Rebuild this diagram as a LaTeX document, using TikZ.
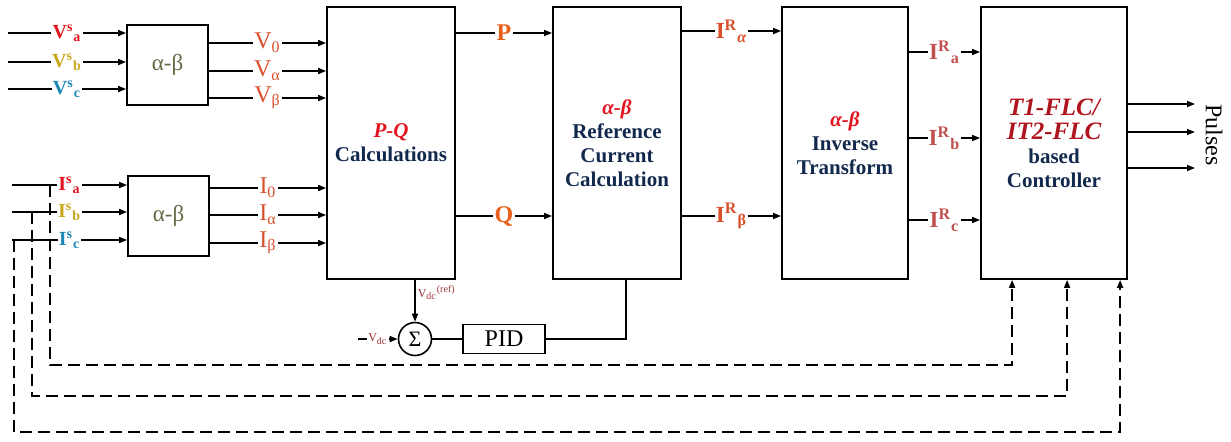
\documentclass[tikz,border=0pt]{standalone}
\usepackage{fontspec}
\setmainfont{Liberation Serif}
\usetikzlibrary{arrows.meta,positioning,calc}
\definecolor{SigRed}{HTML}{E3141F}
\definecolor{SigGold}{HTML}{C9A61C}
\definecolor{SigBlue}{HTML}{1B87B5}
\definecolor{AbOlive}{HTML}{5E6B45}
\definecolor{OutOrange}{HTML}{D9502A}
\definecolor{PqOrange}{HTML}{E8601C}
\definecolor{RefRose}{HTML}{C0504D}
\definecolor{TitleRed}{HTML}{E3141F}
\definecolor{FlcRed}{HTML}{B0141C}
\definecolor{BoxNavy}{HTML}{12294D}
\definecolor{DcRed}{HTML}{A0303A}

\begin{document}
\begin{tikzpicture}[x=0.5pt, y=-0.5pt, >={Triangle[length=4pt,width=3pt]},
  blk/.style={draw, line width=0.9pt, align=center, inner sep=2pt},
  abbox/.style={blk, minimum width=40.5pt, minimum height=40pt, text=AbOlive, font=\fontsize{11.5}{12}\selectfont},
  bigbox/.style={blk, minimum height=136pt, text=BoxNavy, font=\fontsize{10.5}{12}\selectfont\bfseries},
  arr/.style={->, line width=0.8pt},
  fb/.style={->, line width=0.9pt, dash pattern=on 6pt off 3pt},
  lbl/.style={fill=white, inner sep=0.6pt},
  sig/.style={lbl, font=\fontsize{10}{11}\selectfont\bfseries},
  comp/.style={lbl, text=OutOrange, font=\fontsize{12}{13}\selectfont},
  pqlbl/.style={lbl, text=PqOrange, font=\fontsize{12}{13}\selectfont\bfseries},
  reflbl/.style={lbl, font=\fontsize{11.5}{12}\selectfont\bfseries}]
\useasboundingbox (0,0) rectangle (1231,441);

% blocks
\node[abbox] (abv) at (167.5,65) {α-β};
\node[abbox] (abi) at (168.5,216) {α-β};
\node[bigbox, minimum width=64pt] (pq) at (391,143) {\textcolor{TitleRed}{\itshape P-Q}\\Calculations};
\node[bigbox, minimum width=64pt] (ref) at (617,143) {\textcolor{TitleRed}{\itshape α-β}\\Reference\\Current\\Calculation};
\node[bigbox, minimum width=63pt] (inv) at (845,143) {\textcolor{TitleRed}{\itshape α-β}\\Inverse\\Transform};
\node[bigbox, minimum width=73pt] (flc) at (1054,143) {\textcolor{FlcRed}{\fontsize{12.5}{14}\selectfont\itshape T1-FLC/}\\\textcolor{FlcRed}{\fontsize{12.5}{14}\selectfont\itshape IT2-FLC}\\based\\Controller};
\node[draw, circle, line width=0.8pt, minimum size=16.5pt, inner sep=0pt, font=\fontsize{11}{12}\selectfont] (sum) at (415,339) {Σ};
\node[blk, line width=0.8pt, minimum width=41pt, minimum height=14.5pt, font=\fontsize{12}{13}\selectfont] (pid) at (504,339) {PID};
\node[rotate=-90, font=\fontsize{12}{13}\selectfont] (pulses) at (1214,135) {Pulses};

% free ends
\coordinate (va) at (8,33);
\coordinate (vb) at (8,62);
\coordinate (vc) at (8,89);
\coordinate (ia) at (12,185);
\coordinate (ib) at (12,212);
\coordinate (ic) at (12,240);
\coordinate (ta) at (50,185);
\coordinate (tb) at (32,212);
\coordinate (tc) at (14,240);
\coordinate (vdc) at (358,339);
\coordinate (pu1) at (1195,104);
\coordinate (pu2) at (1195,132);
\coordinate (pu3) at (1195,168);

% source signals
\draw[arr] (va) -- (va -| abv.west) node[midway, sig, text=SigRed] {V\textsuperscript{s}\textsubscript{a}};
\draw[arr] (vb) -- (vb -| abv.west) node[midway, sig, text=SigGold] {V\textsuperscript{s}\textsubscript{b}};
\draw[arr] (vc) -- (vc -| abv.west) node[midway, sig, text=SigBlue] {V\textsuperscript{s}\textsubscript{c}};
\draw[arr] (ia) -- (ia -| abi.west) node[midway, sig, text=SigRed] {I\textsuperscript{s}\textsubscript{a}};
\draw[arr] (ib) -- (ib -| abi.west) node[midway, sig, text=SigGold] {I\textsuperscript{s}\textsubscript{b}};
\draw[arr] (ic) -- (ic -| abi.west) node[midway, sig, text=SigBlue] {I\textsuperscript{s}\textsubscript{c}};

% transformed components
\draw[arr] (abv.east |- 0,43) -- (pq.west |- 0,43) node[midway, comp] {V\textsubscript{0}};
\draw[arr] (abv.east |- 0,71) -- (pq.west |- 0,71) node[midway, comp] {V\textsubscript{α}};
\draw[arr] (abv.east |- 0,98) -- (pq.west |- 0,98) node[midway, comp] {V\textsubscript{β}};
\draw[arr] (abi.east |- 0,188) -- (pq.west |- 0,188) node[midway, comp] {I\textsubscript{0}};
\draw[arr] (abi.east |- 0,215) -- (pq.west |- 0,215) node[midway, comp] {I\textsubscript{α}};
\draw[arr] (abi.east |- 0,243) -- (pq.west |- 0,243) node[midway, comp] {I\textsubscript{β}};

% powers and reference currents
\draw[arr] (pq.east |- 0,33) -- (ref.west |- 0,33) node[midway, pqlbl] {P};
\draw[arr] (pq.east |- 0,216) -- (ref.west |- 0,216) node[midway, pqlbl] {Q};
\draw[arr] (ref.east |- 0,31) -- (inv.west |- 0,31) node[midway, reflbl, text=OutOrange] {I\textsuperscript{R}\textsubscript{\itshape α}};
\draw[arr] (ref.east |- 0,216) -- (inv.west |- 0,216) node[midway, reflbl, text=OutOrange] {I\textsuperscript{R}\textsubscript{β}};
\draw[arr] (inv.east |- 0,52) -- (flc.west |- 0,52) node[midway, reflbl, text=RefRose] {I\textsuperscript{R}\textsubscript{a}};
\draw[arr] (inv.east |- 0,138) -- (flc.west |- 0,138) node[midway, reflbl, text=RefRose] {I\textsuperscript{R}\textsubscript{b}};
\draw[arr] (inv.east |- 0,220) -- (flc.west |- 0,220) node[midway, reflbl, text=RefRose] {I\textsuperscript{R}\textsubscript{c}};

% gate pulses
\draw[arr] (flc.east |- pu1) -- (pu1);
\draw[arr] (flc.east |- pu2) -- (pu2);
\draw[arr] (flc.east |- pu3) -- (pu3);

% dc-link loop
\draw[arr] (sum.north |- pq.south) -- (sum.north) node[pos=0.3, right=1pt, inner sep=0pt, text=DcRed, font=\fontsize{6}{7}\selectfont] {V\textsubscript{dc}\textsuperscript{(ref)}};
\draw[arr] (vdc) -- (sum.west) node[midway, lbl, text=DcRed, font=\fontsize{6}{7}\selectfont] {V\textsubscript{dc}};
\draw[line width=0.8pt] (sum.east) -- (pid.west);
\draw[line width=0.8pt] (pid.east) -| ($(ref.south west)+(74,0)$);

% measured currents fed back
\draw[fb] (ta) -- (ta |- 0,365) -| ($(flc.south west)+(32,0)$);
\draw[fb] (tb) -- (tb |- 0,396) -| ($(flc.south west)+(87,0)$);
\draw[fb] (tc) -- (tc |- 0,432) -| ($(flc.south west)+(140,0)$);
\end{tikzpicture}
\end{document}
